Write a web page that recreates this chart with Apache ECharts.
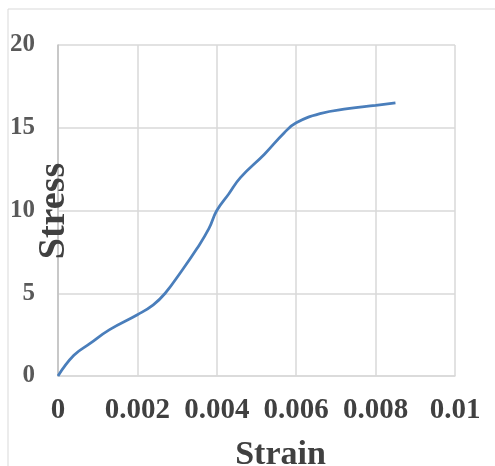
<!DOCTYPE html>
<html><head><meta charset="utf-8">
<script src="https://cdn.jsdelivr.net/npm/echarts@6/dist/echarts.min.js"></script>
<style>html,body{margin:0;padding:0;background:#fff}#c{width:495px;height:466px}</style>
</head><body><div id="c"></div>
<script>
var strain = [0,0.0004,0.0008,0.0013,0.002,0.0024,0.0027,0.0031,0.0035,0.0038,0.004,0.0043,0.0046,0.0052,0.0057,0.006,0.0066,0.0073,0.008,0.0085];
var stress = [0,1.25,1.95,2.8,3.7,4.3,5.0,6.3,7.7,8.9,10.0,11.0,12.0,13.4,14.7,15.3,15.85,16.15,16.35,16.5];
var xTicks = {min:0, max:0.01, interval:0.002};
var yTicks = {min:0, max:20, interval:5};
var yTitle = 'Stress';
var pts = strain.map(function(x,i){return [x, stress[i]];});
var font = 'Liberation Serif';
var chart = echarts.init(document.getElementById('c'));
chart.setOption({
  animation:false,
  graphic:[
    {type:'rect', shape:{x:8,y:9,width:500,height:470}, style:{fill:'none',stroke:'#d9d9d9',lineWidth:1}},
    {type:'text', x:54, y:211, rotation:Math.PI/2, z:100,
      style:{text:yTitle, font:'bold 38px "Liberation Serif"', fill:'#404040', align:'center', verticalAlign:'middle'}}
  ],
  grid:{left:58,right:40,top:45,bottom:90,containLabel:false,outerBoundsMode:'none'},
  xAxis:{type:'value', min:xTicks.min, max:xTicks.max, interval:xTicks.interval,
    name:'Strain', nameLocation:'middle', nameGap:62,
    nameTextStyle:{fontFamily:font,fontWeight:'bold',fontSize:34,color:'#404040',padding:[0,0,0,48]},
    axisLine:{lineStyle:{color:'#d9d9d9',width:1.5}}, axisTick:{show:false},
    splitLine:{lineStyle:{color:'#d9d9d9',width:1.5}},
    axisLabel:{fontFamily:font,fontWeight:'bold',fontSize:29,color:'#404040',margin:20,
      formatter:function(v){return String(+v.toFixed(3));}}},
  yAxis:{type:'value', min:yTicks.min, max:yTicks.max, interval:yTicks.interval,
    axisLine:{show:true,lineStyle:{color:'#bfbfbf',width:1.5}}, axisTick:{show:false},
    splitLine:{lineStyle:{color:'#d9d9d9',width:1.5}},
    axisLabel:{fontFamily:font,fontWeight:'bold',fontSize:25,color:'#595959',margin:23}},
  series:[{type:'line', data:pts, smooth:0.45, showSymbol:false,
    lineStyle:{color:'#4a7ebb',width:2.75}}]
});
</script></body></html>
